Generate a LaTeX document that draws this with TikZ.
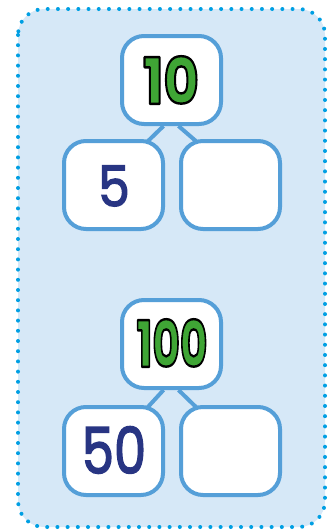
\documentclass[tikz,border=0pt]{standalone}
\usepackage{fontspec}
\setmainfont{Poppins}
\usetikzlibrary{calc}
\definecolor{panelfill}{HTML}{D6E8F7}
\definecolor{dotblue}{HTML}{009FE3}
\definecolor{boxline}{HTML}{559FD8}
\definecolor{numgreen}{HTML}{3FA535}
\definecolor{numnavy}{HTML}{283583}
\tikzset{
  x=1pt, y=-1pt,
  bondbox/.style={draw=boxline, line width=4pt, fill=white, rounded corners=22pt,
    minimum width=99pt, minimum height=88pt, inner sep=0pt},
  parttxt/.style={text=numnavy},
  bond/.style={draw=boxline, line width=4pt},
}
\newcommand{\greennum}[1]{\textcolor{numgreen}{\special{pdf:literal direct 0 0 0 RG 2.4 w 1 j 2 Tr}#1\special{pdf:literal direct 0 Tr}}}
\begin{document}
\begin{tikzpicture}
\useasboundingbox (0,0) rectangle (328,531);
\draw[fill=panelfill, draw=dotblue, line width=4pt, line cap=round,
  dash pattern=on 0pt off 10.2pt, rounded corners=26pt] (18,9) rectangle (325,527);
% top group
\node[bondbox] (w1) at (171.5,80) {};
\node[bondbox] (a1) at (113.5,185) {};
\node[bondbox] (b1) at (230.5,185) {};
\node[font=\fontsize{64}{64}\selectfont\bfseries, xscale=0.85] (t1) at (171,80) {\greennum{10}};
\node[font=\fontsize{56}{56}\selectfont\addfontfeature{FakeBold=2.5}, parttxt, xscale=0.9] (s1) at (114,186) {5};
% bottom group
\node[bondbox] (w2) at (171.5,344) {};
\node[bondbox] (a2) at (113.5,451) {};
\node[bondbox] (b2) at (230.5,451) {};
\node[font=\fontsize{64}{64}\selectfont\bfseries, xscale=0.66] (t2) at (172,343) {\greennum{100}};
\node[font=\fontsize{64}{64}\selectfont\addfontfeature{FakeBold=2.5}, parttxt, xscale=0.8] (s2) at (114,450) {50};
\draw[bond] ($(w1.south)+(-8,0)$) -- ($(a1.north east)+(-18,3)$);
\draw[bond] ($(w1.south)+(7,0)$) -- ($(b1.north west)+(18,3)$);
\draw[bond] ($(w2.south)+(-8,0)$) -- ($(a2.north east)+(-18,3)$);
\draw[bond] ($(w2.south)+(7,0)$) -- ($(b2.north west)+(18,3)$);
\end{tikzpicture}
\end{document}
